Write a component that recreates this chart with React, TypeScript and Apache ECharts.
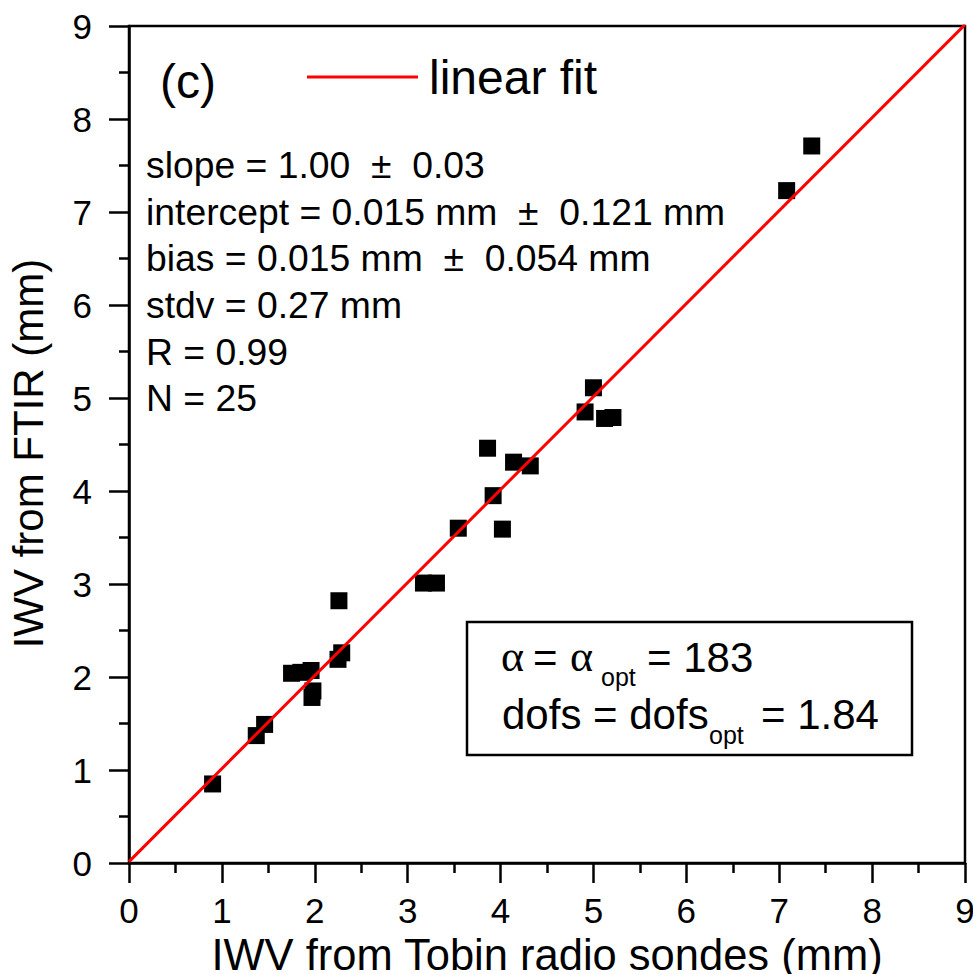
import React, { useEffect, useRef } from "react";
import * as echarts from "echarts";

// Scatter data: IWV radio sondes (x) vs IWV FTIR (y), mm
const sondeIWV = [0.90, 1.37, 1.46, 1.75, 1.85, 1.96, 1.98, 1.97, 2.25, 2.29, 2.26, 3.17, 3.31, 3.545, 4.02, 3.92, 3.86, 4.14, 4.32, 4.91, 5.00, 5.12, 5.21, 7.08, 7.35];
const ftirIWV = [0.85, 1.37, 1.49, 2.04, 2.05, 2.07, 1.85, 1.78, 2.19, 2.26, 2.82, 3.01, 3.01, 3.60, 3.59, 3.95, 4.46, 4.31, 4.27, 4.85, 5.11, 4.78, 4.79, 7.23, 7.71];

const fitSlope = 1.0;
const fitIntercept = 0.015;
const fitRange = [0, 9];

const axisTicks = [0, 1, 2, 3, 4, 5, 6, 7, 8, 9];

const statsLines = [
  "slope = 1.00  \u00b1  0.03",
  "intercept = 0.015 mm  \u00b1  0.121 mm",
  "bias = 0.015 mm  \u00b1  0.054 mm",
  "stdv = 0.27 mm",
  "R = 0.99",
  "N = 25",
];

const SANS = "'Liberation Sans', Arial, sans-serif";
const SERIF = "'Liberation Serif', 'Times New Roman', serif";

function txt(text: string, x: number, baseline: number, fs: number, family = SANS, lh?: number) {
  return {
    type: "text",
    x,
    y: baseline - 0.3465 * fs,
    style: {
      text,
      fill: "#000",
      font: `${fs}px ${family}`,
      lineHeight: lh ?? fs,
      textAlign: "left",
      textVerticalAlign: "middle",
    },
  };
}

export default function App() {
  const ref = useRef<HTMLDivElement>(null);

  useEffect(() => {
    if (!ref.current) return;
    const chart = echarts.init(ref.current, undefined, { renderer: "svg" });

    const points = sondeIWV.map((x, i) => [x, ftirIWV[i]]);
    const fitLine = fitRange.map((x) => [x, fitSlope * x + fitIntercept]);

    const graphics: any[] = [];
    graphics.push(txt("(c)", 160, 98, 48));
    const statBase = [178, 225, 271, 318, 365, 411];
    statsLines.forEach((s, i) => graphics.push(txt(s, 146, statBase[i], 37.3)));

    // alpha / dofs box
    graphics.push({
      type: "rect",
      shape: { x: 467, y: 622, width: 445, height: 133 },
      style: { fill: "#fff", stroke: "#000", lineWidth: 2.5 },
      z: 10,
    });
    const b1 = 672, s1 = 686, b2 = 729, s2 = 744;
    const boxTexts = [
      txt("\u03b1", 501, b1, 44, SERIF, 30),
      txt("=", 533, b1, 42, SANS, 30),
      txt("\u03b1", 570, b1, 44, SERIF, 30),
      txt("opt", 601, s1, 25, SANS, 16),
      txt("= 183", 647, b1, 42, SANS, 30),
      txt("dofs = dofs", 502, b2, 42, SANS, 30),
      txt("opt", 709, s2, 25, SANS, 16),
      txt("= 1.84", 761, b2, 42, SANS, 30),
    ];
    boxTexts.forEach((t: any) => {
      t.z = 11;
      graphics.push(t);
    });

    const axisCommon = {
      min: 0,
      max: 9,
      interval: 1,
      axisLine: { show: true, onZero: false, lineStyle: { color: "#000", width: 2.5 } },
      axisTick: { show: true, inside: false, length: 20, lineStyle: { color: "#000", width: 2.5 } },
      minorTick: { show: true, splitNumber: 2, length: 10, lineStyle: { color: "#000", width: 2.5 } },
      splitLine: { show: false },
      minorSplitLine: { show: false },
      axisLabel: {
        color: "#000",
        fontSize: 35,
        fontFamily: SANS,
        formatter: (v: number) => (axisTicks.includes(v) ? String(v) : ""),
      },
      nameLocation: "middle",
    };

    chart.setOption({
      animation: false,
      backgroundColor: "#fff",
      grid: {
        left: 129,
        right: 8,
        top: 26,
        bottom: 111,
        containLabel: false,
        outerBoundsMode: "none",
        show: true,
        borderColor: "#000",
        borderWidth: 2.5,
        backgroundColor: "transparent",
      },
      legend: {
        show: true,
        left: 307,
        top: 53,
        padding: 0,
        itemWidth: 111,
        itemHeight: 3,
        data: [{ name: "linear fit", icon: "rect" }],
        textStyle: { color: "#000", fontSize: 48, fontFamily: SANS, padding: [0, 0, 0, 6] },
      },
      xAxis: {
        ...axisCommon,
        type: "value",
        name: "IWV from Tobin radio sondes (mm)",
        nameGap: 67,
        nameTextStyle: { color: "#000", fontSize: 43.5, lineHeight: 36, fontFamily: SANS },
        axisLabel: { ...axisCommon.axisLabel, margin: 30 },
      },
      yAxis: {
        ...axisCommon,
        type: "value",
        name: "IWV from FTIR (mm)",
        nameGap: 80,
        nameTextStyle: { color: "#000", fontSize: 42, fontFamily: SANS, padding: [0, 18, 0, 0] },
        axisLabel: { ...axisCommon.axisLabel, margin: 37 },
      },
      series: [
        {
          name: "data",
          type: "scatter",
          data: points,
          symbol: "rect",
          symbolSize: 17,
          itemStyle: { color: "#000", opacity: 1 },
          z: 3,
        },
        {
          name: "linear fit",
          type: "line",
          data: fitLine,
          showSymbol: false,
          symbol: "none",
          clip: true,
          lineStyle: { color: "#ff0000", width: 3 },
          itemStyle: { color: "#ff0000" },
          z: 4,
        },
      ],
      graphic: graphics,
    });

    return () => chart.dispose();
  }, []);

  return (
    <div
      ref={ref}
      style={{ position: "fixed", left: 0, top: 0, width: 973, height: 974, background: "#fff" }}
    />
  );
}
